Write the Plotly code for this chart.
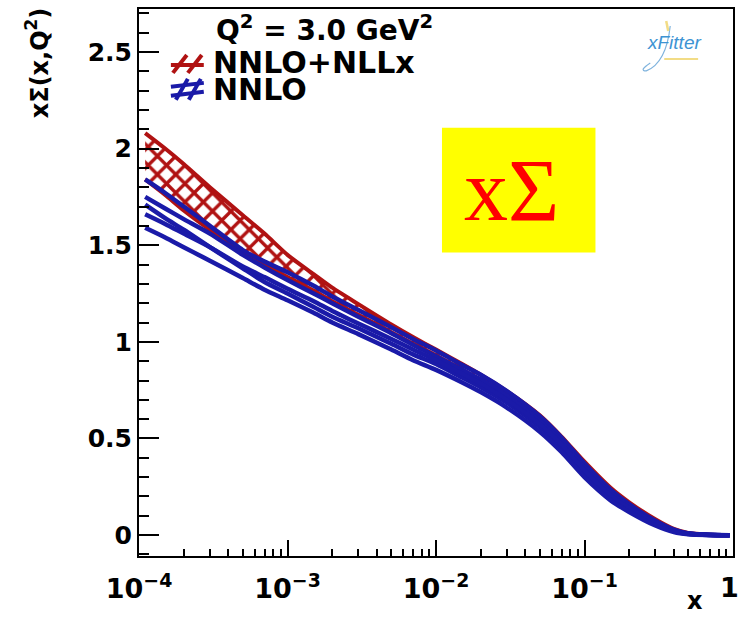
import plotly.graph_objects as go

# x grid (log scale) shared by all curves
x_vals = [1.1e-4, 1.5e-4, 2e-4, 3e-4, 5e-4, 7e-4, 1e-3, 1.5e-3, 2e-3, 3e-3, 5e-3, 7e-3,
          1e-2, 1.5e-2, 2e-2, 3e-2, 5e-2, 7e-2, 0.1, 0.15, 0.2, 0.3, 0.4, 0.5, 0.7, 0.95]

# NNLO+NLLx uncertainty band (upper / lower edge)
nllx_upper = [2.08, 2.00, 1.92, 1.80, 1.655, 1.56, 1.45, 1.35, 1.28, 1.195, 1.09, 1.025,
              0.96, 0.885, 0.83, 0.745, 0.62, 0.51, 0.38, 0.245, 0.17, 0.082, 0.032, 0.011, 0.002, 0.0]
nllx_lower = [1.84, 1.76, 1.68, 1.58, 1.465, 1.40, 1.335, 1.265, 1.21, 1.14, 1.05, 0.99,
              0.93, 0.855, 0.805, 0.72, 0.59, 0.485, 0.35, 0.22, 0.148, 0.066, 0.024, 0.008, 0.001, 0.0]

# NNLO curves
nnlo_1 = [1.84, 1.77, 1.70, 1.60, 1.475, 1.415, 1.36, 1.29, 1.235, 1.165, 1.075, 1.015,
          0.955, 0.88, 0.83, 0.745, 0.615, 0.505, 0.37, 0.235, 0.16, 0.074, 0.028, 0.009, 0.002, 0.0]
nnlo_2 = [1.75, 1.69, 1.635, 1.56, 1.45, 1.385, 1.32, 1.25, 1.20, 1.13, 1.045, 0.985,
          0.925, 0.855, 0.805, 0.72, 0.59, 0.485, 0.35, 0.22, 0.15, 0.068, 0.025, 0.008, 0.001, 0.0]
nnlo_3 = [1.71, 1.64, 1.58, 1.49, 1.38, 1.31, 1.25, 1.18, 1.13, 1.07, 0.99, 0.935,
          0.885, 0.815, 0.765, 0.685, 0.56, 0.455, 0.32, 0.195, 0.13, 0.056, 0.019, 0.006, 0.001, 0.0]
nnlo_4 = [1.66, 1.61, 1.56, 1.49, 1.39, 1.335, 1.275, 1.21, 1.16, 1.095, 1.015, 0.96,
          0.905, 0.835, 0.785, 0.70, 0.575, 0.47, 0.335, 0.205, 0.14, 0.061, 0.021, 0.007, 0.001, 0.0]
nnlo_5 = [1.59, 1.54, 1.49, 1.42, 1.33, 1.27, 1.215, 1.15, 1.10, 1.04, 0.96, 0.905,
          0.855, 0.79, 0.74, 0.66, 0.535, 0.43, 0.30, 0.18, 0.12, 0.050, 0.016, 0.005, 0.001, 0.0]
nnlo_curves = [nnlo_1, nnlo_2, nnlo_3, nnlo_4, nnlo_5]

x_tick_vals = [1e-4, 1e-3, 1e-2, 1e-1]
x_tick_text = ["10<sup>\u22124</sup>", "10<sup>\u22123</sup>", "10<sup>\u22122</sup>",
               "10<sup>\u22121</sup>"]
x_last_tick = "1"
y_tick_vals = [0, 0.5, 1, 1.5, 2, 2.5]
y_tick_text = ["0", "0.5", "1", "1.5", "2", "2.5"]

RED = "#b01212"
BLUE = "#1a1aa8"
W, H = 742, 617
L, R, T, B = 139, 735, 8, 556


def px(xp, yp):
    """pixel position -> paper coordinates"""
    return (xp - L) / (R - L), (B - yp) / (B - T)


fig = go.Figure()

line_shape = dict(shape="spline", smoothing=0.7)

# hatched NNLO+NLLx band
fig.add_trace(go.Scatter(x=x_vals, y=nllx_upper, mode="lines",
                         line=dict(color=RED, width=4, **line_shape),
                         showlegend=False, hoverinfo="skip"))
fig.add_trace(go.Scatter(x=x_vals, y=nllx_lower, mode="lines",
                         line=dict(color=RED, width=4, **line_shape),
                         fill="tonexty", fillcolor="rgba(0,0,0,0)",
                         fillpattern=dict(shape="x", fgcolor=RED, bgcolor="rgba(0,0,0,0)",
                                          fgopacity=1, size=13, solidity=0.45),
                         showlegend=False, hoverinfo="skip"))

# NNLO lines
for ys in nnlo_curves:
    fig.add_trace(go.Scatter(x=x_vals, y=ys, mode="lines",
                             line=dict(color=BLUE, width=4.5, **line_shape),
                             showlegend=False, hoverinfo="skip"))

tick_font = dict(family="DejaVu Sans", size=25, color="black", weight="bold")
xtick_font = dict(family="DejaVu Sans", size=27, color="black", weight="bold")

fig.update_xaxes(type="log", range=[-4, 0], tickvals=x_tick_vals + [1],
                 ticktext=x_tick_text + [""],
                 ticks="inside", ticklen=16, tickwidth=1.5, ticklabelstandoff=8,
                 tickcolor="black", showline=True, linecolor="black", linewidth=2,
                 mirror=True, showgrid=False, zeroline=False, tickfont=xtick_font,
                 minor=dict(dtick="D1", ticks="inside", ticklen=7, tickwidth=1.5,
                            tickcolor="black", showgrid=False))
fig.update_yaxes(range=[-0.108, 2.722], tickvals=y_tick_vals, ticktext=y_tick_text,
                 ticks="inside", ticklen=20, tickwidth=1.5, tickcolor="black",
                 showline=True, linecolor="black", linewidth=2, mirror=True,
                 showgrid=False, zeroline=False, tickfont=tick_font,
                 minor=dict(dtick=0.1, ticks="inside", ticklen=10, tickwidth=1.5,
                            tickcolor="black", showgrid=False))

shapes = []
# yellow box
x0, y0 = px(443, 252)
x1, y1 = px(597, 127)
shapes.append(dict(type="rect", xref="paper", yref="paper", x0=x0, y0=y0, x1=x1, y1=y1,
                   fillcolor="#ffff00", line=dict(width=0), layer="above"))


def seg(a, b, color, width=4):
    (ax, ay), (bx, by) = px(*a), px(*b)
    shapes.append(dict(type="line", xref="paper", yref="paper", x0=ax, y0=ay, x1=bx, y1=by,
                       line=dict(color=color, width=width)))


# legend glyphs
seg((171, 64), (204, 64), RED)
seg((173, 72), (187, 54), RED)
seg((188, 72), (202, 54), RED)
seg((171, 86), (204, 82), BLUE)
seg((171, 95), (204, 91), BLUE)
seg((176, 99), (188, 78), BLUE)
seg((189, 99), (201, 78), BLUE)

# small logo swoosh
shapes.append(dict(type="path", xref="paper", yref="paper",
                   path=f"M {px(652,62)[0]},{px(652,62)[1]} Q {px(640,70)[0]},{px(640,70)[1]} "
                        f"{px(648,70)[0]},{px(648,70)[1]} Q {px(668,62)[0]},{px(668,62)[1]} "
                        f"{px(672,25)[0]},{px(672,25)[1]}",
                   line=dict(color="#7fb3dd", width=1.2)))
seg((666, 58), (700, 58), "#f2dc86", 2)
seg((668, 20), (670, 30), "#f2dc86", 2.5)

fig.update_layout(shapes=shapes)

ann = []


def text(xp, yp, s, size, **kw):
    xx, yy = px(xp, yp)
    d = dict(xref="paper", yref="paper", x=xx, y=yy, text=s, showarrow=False,
             font=dict(family=kw.pop("family", "DejaVu Sans"), size=size,
                       color=kw.pop("color", "black"), weight=kw.pop("weight", "bold"),
                       style=kw.pop("style", "normal")),
             xanchor=kw.pop("xanchor", "left"), yanchor=kw.pop("yanchor", "middle"))
    d.update(kw)
    ann.append(d)


text(214, 28, "Q<sup>2</sup> = 3.0 GeV<sup>2</sup>", 28)
text(211, 62, "NNLO+NLLx", 30)
text(211, 89, "NNLO", 30)
text(513, 190, "xΣ", 88, family="Liberation Serif", color="#ff0000", weight="normal",
     xanchor="center")
text(676, 42, "xFitter", 19, family="Liberation Sans", color="#3d93d3", weight="normal",
     style="italic", xanchor="center")
text(37, 62, "xΣ(x,Q<sup>2</sup>)", 24, xanchor="center", textangle=-90)
text(697, 601, "x", 24, xanchor="center", borderpad=0)
# label of the last decade, kept inside the page edge
text(742, 588, x_last_tick, 27, xanchor="right", borderpad=0)

fig.update_layout(annotations=ann, width=W, height=H,
                  margin=dict(l=L, r=W - R, t=T, b=H - B),
                  paper_bgcolor="white", plot_bgcolor="white", showlegend=False)

fig.write_html("out.html")
